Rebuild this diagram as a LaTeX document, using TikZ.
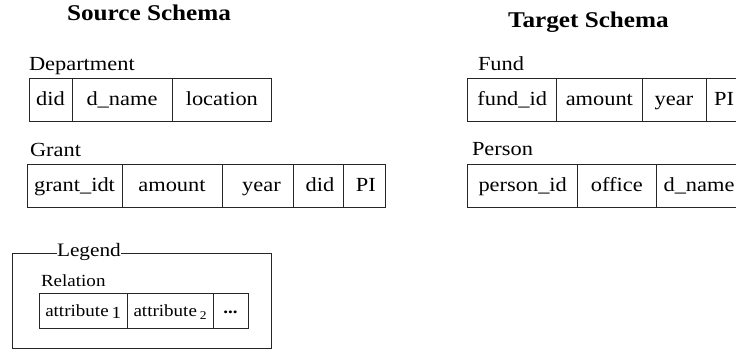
\documentclass[tikz,border=0pt]{standalone}
\usepackage{fontspec}
\setmainfont{Liberation Serif}[FakeStretch=1.12]
\begin{document}
\begin{tikzpicture}[x=1pt,y=-1pt,
  every node/.style={inner sep=0pt, outer sep=0pt},
  title/.style={anchor=base west, font=\fontsize{22.5}{26}\selectfont\bfseries},
  lbl/.style={anchor=base west, font=\fontsize{20}{24}\selectfont},
  cell/.style={draw=black!85, line width=1pt, rectangle, font=\fontsize{20}{24}\selectfont, text height=15pt, text depth=4pt},
  lcell/.style={draw=black!85, line width=1pt, rectangle, minimum height=35pt, font=\fontsize{17}{20}\selectfont, text height=13pt, text depth=3pt},
  frame/.style={draw=black!85, line width=1pt}]
\useasboundingbox (0,0) rectangle (736,352);
\clip (0,0) rectangle (736,352);
\fill[white] (0,0) rectangle (736,352);

% titles
\node[title] (src) at (67,20.7) {Source Schema};
\node[title] (tgt) at (508,27.7) {Target Schema};

% Department
\node[lbl] (deplbl) at (29,71) {Department};
\node[cell, minimum height=42.7pt, minimum width=43pt] (dep1) at (50.5,100.35) {did};
\node[cell, minimum height=42.7pt, minimum width=100pt] (dep2) at (122,100.35) {d\_name};
\node[cell, minimum height=42.7pt, minimum width=99.7pt] (dep3) at (221.85,100.35) {location};

% Grant
\node[lbl] (grlbl) at (30,156.7) {Grant};
\node[cell, minimum height=43pt, minimum width=95pt] (gr1) at (74.5,185.8) {grant\_idt};
\node[cell, minimum height=43pt, minimum width=100pt] (gr2) at (172,185.8) {amount};
\node[cell, minimum height=43pt, minimum width=71pt] (gr3) at (257.5,185.8) {\hspace*{8pt}year};
\node[cell, minimum height=43pt, minimum width=50pt] (gr4) at (318,185.8) {\hspace*{4pt}did};
\node[cell, minimum height=43pt, minimum width=42.7pt] (gr5) at (364.35,185.8) {\hspace*{3pt}PI};

% Fund
\node[lbl] (fdlbl) at (478,71) {Fund};
\node[cell, minimum height=43pt, minimum width=89pt] (fd1) at (512.2,100.5) {fund\_id};
\node[cell, minimum height=43pt, minimum width=85.3pt] (fd2) at (599.35,100.5) {amount};
\node[cell, minimum height=43pt, minimum width=64pt] (fd3) at (674,100.5) {year};
\node[cell, minimum height=43pt, minimum width=36pt] (fd4) at (724,100.5) {PI};

% Person
\node[lbl] (pslbl) at (472,156) {Person};
\node[cell, minimum height=42.5pt, minimum width=110pt] (ps1) at (522.7,186.25) {person\_id};
\node[cell, minimum height=42.5pt, minimum width=78.3pt] (ps2) at (616.85,186.25) {office};
\node[cell, minimum height=42.5pt, minimum width=86pt] (ps3) at (699,186.25) {d\_name};

% Legend
\node[lbl, font=\fontsize{19}{22}\selectfont] (lg) at (57,257) {Legend};
\coordinate (lgtl) at (12.7,254);
\coordinate (lgbl) at (12.7,349);
\coordinate (lgbr) at (271.7,349);
\coordinate (lgtr) at (271.7,254);
\draw[frame] (lg.west |- lgtl) -- (lgtl) -- (lgbl) -- (lgbr) -- (lgtr) -- (lg.east |- lgtr);
\node[lbl, font=\fontsize{17}{20}\selectfont] (rel) at (41,287) {Relation};
\node[lcell, minimum width=87.7pt] (la1) at (83.15,311.5) {attribute\,\raisebox{-2pt}{1}};
\node[lcell, minimum width=86pt] (la2) at (170,311.5) {attribute\,\raisebox{-3pt}{\fontsize{12}{14}\selectfont 2}};
\node[lcell, minimum width=35pt] (la3) at (230.5,311.5) {\raisebox{3pt}{\bfseries...}};
\end{tikzpicture}
\end{document}
